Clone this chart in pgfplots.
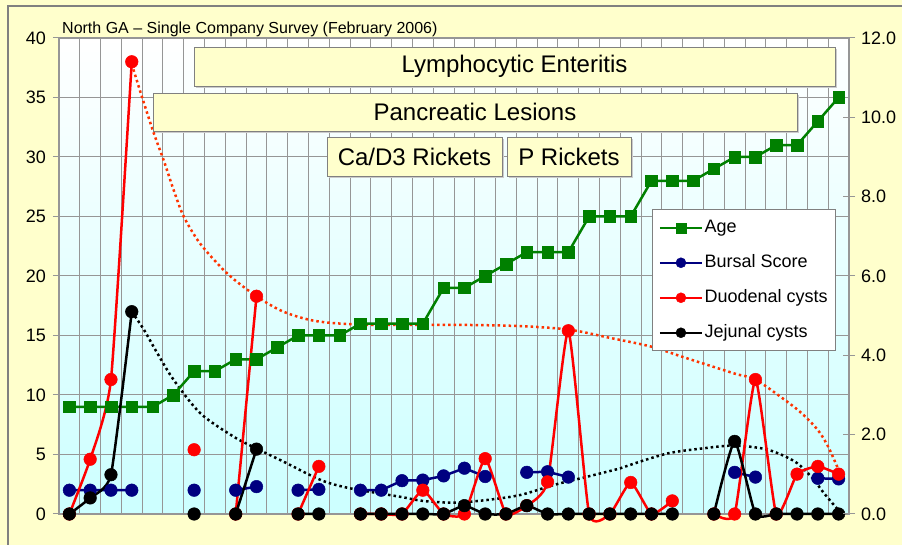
\documentclass[border=0pt]{standalone}
\usepackage{fontspec}
\setmainfont{Liberation Sans}
\usepackage{pgfplots}
\pgfplotsset{compat=1.18}
\usepackage{pgfplotstable}
\definecolor{cream}{RGB}{255,255,204}
\definecolor{gridgray}{RGB}{150,150,150}
\definecolor{framegray}{RGB}{128,128,128}
\definecolor{agegreen}{RGB}{0,128,0}
\definecolor{navyb}{RGB}{0,0,128}
\definecolor{trendred}{RGB}{255,51,0}
\definecolor{cyanbot}{RGB}{204,255,255}
\definecolor{cyanmid}{RGB}{226,255,255}

\pgfplotstableread{
i age bursal duod jej
1 9 2 0 0
2 9 2 4.6 1.35
3 9 2 11.3 3.3
4 9 2 38 17
5 9 nan nan nan
6 10 nan nan nan
7 12 2 5.4 0
8 12 nan nan nan
9 13 2 0 0
10 13 2.3 18.3 5.45
11 14 nan nan nan
12 15 2 0 0
13 15 2.07 4.0 0
14 15 nan nan nan
15 16 2 0 0
16 16 2 0 0
17 16 2.8 0 0
18 16 2.85 2.0 0
19 19 3.2 0 0
20 19 3.85 0 0.7
21 20 3.15 4.65 0
22 21 nan 0 0
23 22 3.5 0.7 0.7
24 22 3.55 2.7 0
25 22 3.1 15.4 0
26 25 nan 0 0
27 25 nan 0 0
28 25 nan 2.65 0
29 28 nan 0 0
30 28 nan 1.1 0
31 28 nan nan nan
32 29 nan 0 0
33 30 3.5 0 6.1
34 30 3.1 11.3 0
35 31 nan 0 0
36 31 nan 3.35 0
37 33 3.0 4.0 0
38 35 2.95 3.35 0
}\datatable

\pgfplotstableread{
x y
4 37.8
4.5 35.0
5.06 32.0
5.54 29.7
6.02 27.2
6.5 25.0
7.3 22.7
8.6 20.2
10 18.3
11.3 17.0
12.9 16.2
15.3 15.9
19.3 15.9
22.5 15.8
25 15.5
27 14.8
29 14.06
30.5 13.2
33 11.8
34 11.3
35.4 9.6
36.2 8.5
37 7.06
37.5 5.65
38 3.7
}\duodtrend

\pgfplotstableread{
x y
4 17.0
4.58 15.5
5.2 13.6
6.02 11.26
7.3 8.46
8.9 6.5
10 5.5
11.3 4.4
13.1 2.85
14.5 2.16
16.9 1.45
18 1.1
19.5 0.95
21.1 1.18
22.7 1.6
24.3 2.44
25.9 3.13
27.5 3.84
28.2 4.26
29.8 5.1
31.4 5.5
33 5.75
34.6 5.4
35.9 4.4
36.7 3.1
37.3 1.74
38 0.3
}\jejtrend

\begin{document}
\begin{tikzpicture}[x=1pt,y=1pt]
\path[use as bounding box] (0,0) rectangle (902,545);
\fill[cream] (0,0) rectangle (902,545);
\draw[framegray, line width=2pt] (8,-5) -- (8,539) -- (910,539);

\node[anchor=base west, font=\fontsize{16}{18}\selectfont, inner sep=0pt] at (62,511) {North GA – Single Company Survey (February 2006)};

\begin{axis}[
  at={(59pt,31pt)}, anchor=south west, scale only axis,
  width=790pt, height=476pt,
  xmin=0.5, xmax=38.5, ymin=0, ymax=40, clip=false,
  axis background/.style={top color=white, middle color=cyanmid, bottom color=cyanbot},
  xtick={1.5,2.5,...,37.5}, xticklabels={}, xtick style={draw=none},
  ytick={0,5,...,40}, ytick pos=left, tick align=outside, major tick length=6pt,
  ytick style={draw=gridgray, line width=1pt},
  grid=major, grid style={draw=gridgray, line width=1pt},
  axis line style={draw=gridgray, line width=1.5pt},
  yticklabel style={font=\fontsize{18}{20}\selectfont, inner sep=0pt, xshift=-7pt},
  /pgf/number format/assume math mode=true,
  unbounded coords=jump,
  legend style={at={(axis description cs:0.751,0.640)}, anchor=north west,
    draw=framegray, line width=0.8pt, fill=white, font=\fontsize{18}{20}\selectfont,
    inner xsep=6pt, inner ysep=8pt, row sep=15pt,
    nodes={inner sep=1.5pt, text height=13pt, text depth=4pt}},
  legend cell align=left,
  legend image code/.code={\draw[mark repeat=2, mark phase=2, mark size=5pt, line width=2.5pt] plot coordinates {(0pt,0pt) (21pt,0pt) (42pt,0pt)};},
]
\addplot[forget plot, trendred, line width=2.5pt, dash pattern=on 2.5pt off 3pt, smooth] table[x=x,y=y] {\duodtrend};
\addplot[forget plot, black, line width=2.5pt, dash pattern=on 2.5pt off 3pt, smooth] table[x=x,y=y] {\jejtrend};

\addplot[agegreen, line width=2.5pt, mark=square*, mark size=5.8pt, mark options={fill=agegreen, line width=0.5pt}] table[x=i,y=age] {\datatable};
\addlegendentry{Age}
\addplot[navyb, line width=2.5pt, mark=*, mark size=6.3pt, mark options={fill=navyb, line width=0.5pt}] table[x=i,y=bursal] {\datatable};
\addlegendentry{Bursal Score}
\addplot[red, line width=2.5pt, smooth, tension=0.3, mark=*, mark size=6.3pt, mark options={fill=red, line width=0.5pt}] table[x=i,y=duod] {\datatable};
\addlegendentry{Duodenal cysts}
\addplot[black, line width=2.5pt, smooth, tension=0.3, mark=*, mark size=6.3pt, mark options={fill=black, line width=0.5pt}] table[x=i,y=jej] {\datatable};
\addlegendentry{Jejunal cysts}
\end{axis}

\begin{axis}[
  at={(59pt,31pt)}, anchor=south west, scale only axis,
  width=790pt, height=476pt,
  xmin=0.5, xmax=38.5, ymin=0, ymax=12,
  axis x line=none, axis y line*=right,
  axis line style={draw=none},
  ytick={0,2,...,12}, tick align=center, major tick length=12pt,
  ytick style={draw=gridgray, line width=1pt},
  yticklabel style={font=\fontsize{18}{20}\selectfont, inner sep=0pt, xshift=6pt,
    /pgf/number format/.cd, fixed, fixed zerofill, precision=1},
  /pgf/number format/assume math mode=true,
]
\addplot[draw=none] coordinates {(1,0)};
\end{axis}

% label boxes
\fill[gray!40] (196,457) rectangle (837,496);
\draw[framegray, line width=0.8pt, fill=cream] (194,459) rectangle (835,498);
\node[font=\fontsize{24}{27}\selectfont] at (514.5,478.5) {Lymphocytic Enteritis};
\fill[gray!40] (155,412) rectangle (799,450);
\draw[framegray, line width=0.8pt, fill=cream] (153,414) rectangle (797,452);
\node[font=\fontsize{24}{27}\selectfont] at (475,433) {Pancreatic Lesions};
\fill[gray!40] (329,367) rectangle (504,406);
\draw[framegray, line width=0.8pt, fill=cream] (327,369) rectangle (502,408);
\node[font=\fontsize{24}{27}\selectfont] at (414.5,388.5) {Ca/D3 Rickets};
\fill[gray!40] (509,367) rectangle (633,406);
\draw[framegray, line width=0.8pt, fill=cream] (507,369) rectangle (631,408);
\node[font=\fontsize{24}{27}\selectfont] at (569,388.5) {P Rickets};
\end{tikzpicture}
\end{document}
